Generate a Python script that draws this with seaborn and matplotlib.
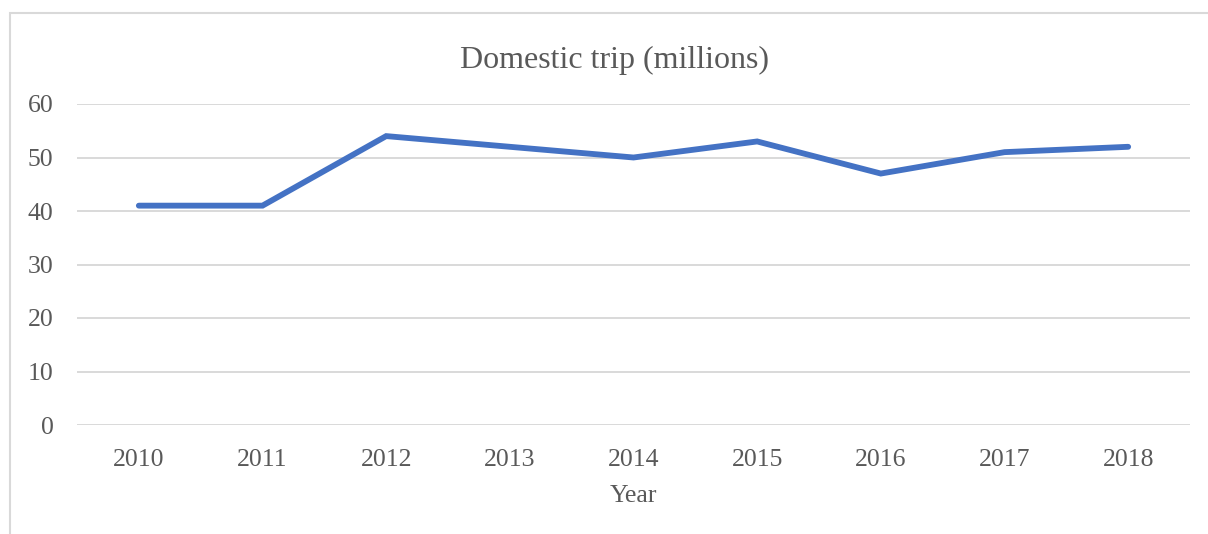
import matplotlib
matplotlib.use("Agg")
import matplotlib.pyplot as plt
import seaborn as sns
import pandas as pd
from matplotlib.patches import Rectangle

years = ["2010", "2011", "2012", "2013", "2014", "2015", "2016", "2017", "2018"]
trips = [41, 41, 54, 52, 50, 53, 47, 51, 52]
y_ticks = [0, 10, 20, 30, 40, 50, 60]

sns.set_theme(style="white")
plt.rcParams['font.family'] = ['Liberation Serif', 'DejaVu Serif']

W, H = 1208, 534
fig = plt.figure(figsize=(W / 100, H / 100), dpi=100)
ax = fig.add_axes([77 / W, (H - 425) / H, (1190 - 77) / W, (425 - 104) / H])

df = pd.DataFrame({"Year": years, "Trips": trips})
df["pos"] = range(len(years))
sns.lineplot(data=df, x="pos", y="Trips", ax=ax, color="#4472C4", linewidth=4.2,
             solid_joinstyle="miter")

ax.set_xlim(-0.5, len(years) - 0.5)
ax.set_ylim(0, 60)
ax.set_xticks(range(len(years)))
ax.set_xticklabels(years)
ax.set_yticks(y_ticks)
ax.grid(axis="y", color="#D9D9D9", linewidth=1.4)
ax.set_axisbelow(True)
for s in ax.spines.values():
    s.set_visible(False)
ax.tick_params(axis="both", length=0, labelsize=18.5, colors="#595959")
ax.tick_params(axis="x", pad=17)
ax.tick_params(axis="y", pad=17)
ax.set_xlabel("Year", fontsize=18.5, color="#595959", labelpad=10)
ax.set_ylabel("")
ax.set_title("Domestic trip (millions)", fontsize=23, color="#595959", pad=26,
             x=(615 - 77) / (1190 - 77))

fig.patches.append(Rectangle((10 / W, -0.1), 1.2, (H - 13) / H + 0.1,
                             transform=fig.transFigure, fill=False,
                             edgecolor="#D9D9D9", linewidth=1.5))

fig.savefig("out.png", dpi=100)
